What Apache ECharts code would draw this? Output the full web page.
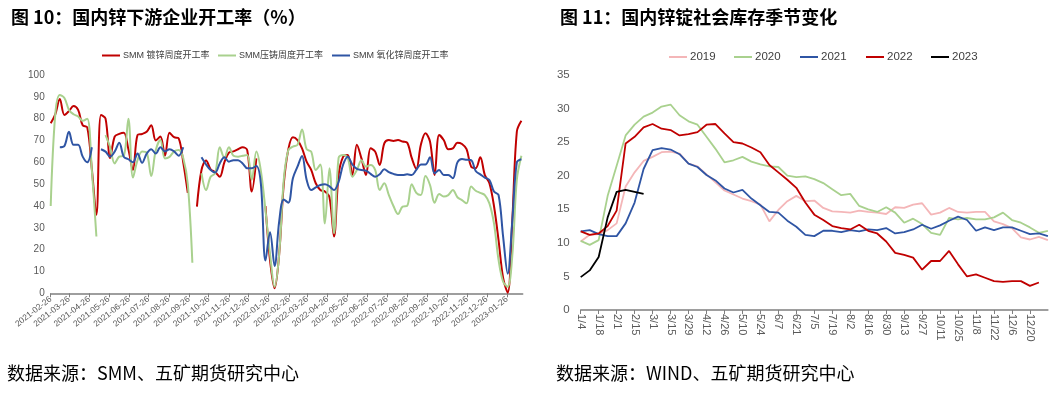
<!DOCTYPE html>
<html>
<head>
<meta charset="utf-8">
<script src="https://cdn.jsdelivr.net/npm/echarts@6/dist/echarts.min.js"></script>
<style>
html,body{margin:0;padding:0;background:#fff;}
#main{width:1057px;height:397px;}
</style>
</head>
<body>
<div id="main"></div>
<script>
// 图10：周度开工率，2021-02-26 起每周一个点
var firstWeek = '2021-02-26';
var galvRate = [77.9, 82, 89, 81.7, 83.5, 85.8, 84, 77, 76, 57,
  36, 81.7, 80, 62, 71.8, 73, 73.5, 66, 56.5, 72.5,
  73, 74, 77, 70, 71.8, 63, 73.5, 71.5, 71, 60,
  46, null, 39.7, 56.5, 60.8, 56.8, 55.5, 53.4, 60, 64.4,
  65, 66, 66.9, 65.6, 46.6, 61.8, null, 40, 15, 2.3,
  18, 50, 66, 71.5, 70.2, 66.4, 60.3, 56.5, 50.4, 47.3,
  46.6, 44, 26, 54.2, 62.6, 63.4, 54.2, 68, 61.8, 54.2,
  66.4, 64.9, 58.8, 68.7, 70.2, 69.8, 70.2, 69.5, 69, 62,
  57, 68, 73.3, 69.5, 54.2, 72.5, 70.2, 66, 66.4, 69,
  68.4, 66, 58, 57.3, 62.3, 54.2, 50.4, 40, 24.4, 7,
  0.3, 33, 74, 79];
var dieCastRate = [40, 82, 90.8, 89.5, 84, 82, 81, 79, 80, 56.5,
  26, null, 72.5, 67, 59.5, 62.6, 63, 80, 53, 61,
  65, 64.5, 53.7, 65.6, 70.2, 61.8, 62.5, 65, 65.6, 62,
  50, 14, null, 55, 47.3, 53.4, 55, 66.9, 62, 66.9,
  63, 62.6, 63, 63.4, 52, 64.9, 56, 38, 18, 3,
  18, 52, 65.6, 67.2, 68, 75, 66, 64.9, 56.5, 59,
  32, 57.3, 27.5, 62, 63.4, 62, 53.4, 56.5, 61, 58,
  58.8, 56.5, 47.3, 50.4, 45, 40, 36.3, 39.7, 40, 50,
  46, 45, 53.7, 49.6, 41.5, 45.5, 44.3, 45, 47.3, 44,
  42.7, 41.2, 48.9, 47, 46, 45, 41.2, 32, 15.3, 5.3,
  3, 17, 52, 63];
var oxideRate = [null, null, 66.9, 67.5, 74, 68, 68, 62.6, 60, 66.9,
  null, 66, 64.9, 62.6, 64.9, 69, 62.5, 61.4, 60, 64,
  59.8, 64, 66, 64, 66.9, 65, 66, 65, 63, 66.9,
  null, null, null, 62.3, 59, 56.5, 55.3, 59.5, 62.3, 60.3,
  61, 61, 59.5, 57.3, 57.3, 58.3, 50, 15, 28, 12.5,
  33, 43, 41.5, 52.7, 58, 62.9, 52, 47.3, 48.5, 49.6,
  50, 49, 47.3, 51, 59, 62.6, 59, 57, 56.5, 56.2,
  54.7, 53.4, 54.5, 56.8, 55.5, 54.7, 54.2, 54.2, 54.5, 54.2,
  56.5, 59, 59, 62.3, 55, 56.5, 54.2, 54.2, 52.7, 60,
  61.5, 61.2, 61, 56, 54.5, 53, 51.9, 46.6, 45, 26,
  9, 33, 60, 61.4];
var monthTicks = ['2021-02-26', '2021-03-26', '2021-04-26', '2021-05-26', '2021-06-26', '2021-07-26',
  '2021-08-26', '2021-09-26', '2021-10-26', '2021-11-26', '2021-12-26', '2022-01-26',
  '2022-02-26', '2022-03-26', '2022-04-26', '2022-05-26', '2022-06-26', '2022-07-26',
  '2022-08-26', '2022-09-26', '2022-10-26', '2022-11-26', '2022-12-26', '2023-01-26'];

// 图11：社会库存（万吨），按周
var weekLabels = ['1/4', '1/11', '1/18', '1/25', '2/1', '2/8', '2/15', '2/22', '3/1', '3/8', '3/15', '3/22', '3/29',
  '4/5', '4/12', '4/19', '4/26', '5/3', '5/10', '5/17', '5/24', '5/31', '6/7', '6/14', '6/21', '6/28',
  '7/5', '7/12', '7/19', '7/26', '8/2', '8/9', '8/16', '8/23', '8/30', '9/6', '9/13', '9/20', '9/27',
  '10/4', '10/11', '10/18', '10/25', '11/1', '11/8', '11/15', '11/22', '11/29', '12/6', '12/13', '12/20',
  '12/27', '1/3'];
var stock2019 = [10.2, 11.2, 11.3, 11.9, 12.9, 18.4, 20.5, 22.2, 22.8, 23.5, 23.6, 23.3, 21.8, 21.4, 20.2,
  19, 17.8, 17.2, 16.6, 16.2, 15.7, 13.2, 14.9, 16.2, 17, 16.2, 16.3, 15.2, 14.7, 14.6, 14.5, 14.8, 14.6,
  14.5, 14.3, 15.3, 15.2, 15.7, 15.9, 14.2, 14.5, 15.2, 14.6, 14.5, 14.6, 14.6, 13.2, 12.8, 12.2, 10.8,
  10.5, 10.9, 10.4];
var stock2020 = [10.3, 9.7, 10.4, 17, 21.5, 26, 27.6, 28.8, 29.4, 30.3, 30.6, 29, 28.1, 27.6, 25.8, 24,
  22, 22.3, 22.8, 22.1, 21.7, 21.4, 21.3, 20, 19.8, 19.9, 19.5, 18.9, 18, 17.1, 17.3, 15.5, 15, 14.6,
  15.3, 14.5, 13, 13.6, 12.8, 11.5, 11.2, 13.7, 13.5, 13.7, 13.5, 13.5, 13.8, 14.5, 13.4, 13, 12.3,
  11.5, 11.8];
var stock2021 = [11.7, 11.9, 11.3, 11, 11, 12.9, 16, 21, 23.8, 24.1, 23.9, 23.2, 21.8, 21.3, 20.1, 19.3,
  18.1, 17.5, 17.9, 16.6, 15.6, 14.6, 14.5, 13.3, 12.4, 11.2, 11, 11.8, 11.8, 11.6, 11.9, 11.7, 12,
  11.9, 12.2, 11.4, 11.6, 12, 12.7, 12.1, 12.6, 13.3, 13.9, 13.4, 11.8, 12.3, 11.9, 12.3, 12.3, 11.8,
  11.3, 11.4, 11];
var stock2022 = [11.7, 11.2, 11.4, 12.5, 14.8, 24.8, 25.8, 27.2, 27.7, 27, 26.8, 26, 26.2, 26.5, 27.6,
  27.7, 26.3, 25, 24.8, 24.2, 23.5, 21.6, 20.5, 19.4, 18.2, 16, 14.2, 13.4, 12.5, 12.2, 12, 12.7, 11.8,
  11.4, 10.2, 8.5, 8.2, 7.8, 6, 7.3, 7.3, 8.8, 6.8, 5, 5.3, 4.8, 4.3, 4.2, 4.3, 4.3, 3.6, 4.1, null];
var stock2023 = [4.9, 5.9, 7.9, 13.8, 17.6, 17.9, 17.6, 17.3];

function toTime(s) {
  var p = s.split('-');
  return new Date(+p[0], +p[1] - 1, +p[2]).getTime();
}
function weekly(values) {
  var t0 = toTime(firstWeek);
  return values.map(function (v, i) {
    return [t0 + i * 7 * 86400000, v];
  });
}
var tickTimes = monthTicks.map(toTime);
function everyOther(i) { return i % 2 === 0 && i <= 50; }

var labelColor = '#595959';
var axisColor = '#7f7f7f';
var narrow = '"Liberation Sans Narrow", "Arial Narrow", Arial, sans-serif';

function oneLegend(name, left) {
  var isYear = name.length < 5;
  return {
    data: [name], left: left, top: 51, padding: 0,
    icon: 'rect', itemWidth: 18, itemHeight: 2, itemGap: 0,
    textStyle: { fontSize: isYear ? 11.5 : 9, color: '#404040', padding: [0, 0, 0, -2],
      fontFamily: isYear ? narrow : 'Arial, "Noto Sans CJK SC", sans-serif' }
  };
}
function leftLine(name, values, color) {
  return {
    name: name, type: 'line', xAxisIndex: 0, yAxisIndex: 0,
    data: weekly(values), smooth: 0.35, symbol: 'none',
    lineStyle: { color: color, width: 2 }, itemStyle: { color: color }
  };
}
function rightLine(name, values, color) {
  return {
    name: name, type: 'line', xAxisIndex: 1, yAxisIndex: 1,
    data: values, symbol: 'none',
    lineStyle: { color: color, width: 1.8 }, itemStyle: { color: color }
  };
}

var chart = echarts.init(document.getElementById('main'));
var option = {
  animation: false,
  backgroundColor: '#fff',
  textStyle: { fontFamily: 'Arial, "Liberation Sans", "Noto Sans CJK SC", sans-serif' },
  title: [
    { text: '图 10：国内锌下游企业开工率（%）', left: 6, top: 3,
      textStyle: { fontSize: 18, fontWeight: 'bold', color: '#000', fontFamily: '"Noto Sans CJK SC", sans-serif' } },
    { text: '图 11：国内锌锭社会库存季节变化', left: 555, top: 3,
      textStyle: { fontSize: 18, fontWeight: 'bold', color: '#000', fontFamily: '"Noto Sans CJK SC", sans-serif' } }
  ],
  legend: [
    oneLegend('SMM 镀锌周度开工率', 102),
    oneLegend('SMM压铸周度开工率', 218),
    oneLegend('SMM 氧化锌周度开工率', 332),
    oneLegend('2019', 669),
    oneLegend('2020', 734),
    oneLegend('2021', 800),
    oneLegend('2022', 866),
    oneLegend('2023', 931)
  ],
  graphic: [
    { type: 'text', left: 7, top: 364,
      style: { text: '数据来源：SMM、五矿期货研究中心', fontSize: 18, fill: '#000', fontFamily: '"Noto Sans CJK SC", sans-serif' } },
    { type: 'text', left: 556, top: 364,
      style: { text: '数据来源：WIND、五矿期货研究中心', fontSize: 18, fill: '#000', fontFamily: '"Noto Sans CJK SC", sans-serif' } }
  ],
  grid: [
    { left: 50.7, top: 75, width: 472, height: 218.3 },
    { left: 580.7, top: 75, width: 467.2, height: 235 }
  ],
  xAxis: [
    {
      type: 'time', gridIndex: 0,
      min: toTime('2021-02-26'), max: toTime('2023-02-19'),
      axisLine: { lineStyle: { color: axisColor, width: 1.5 } },
      axisTick: { show: true, customValues: tickTimes, length: 4, lineStyle: { color: axisColor } },
      axisLabel: { customValues: tickTimes, formatter: '{yyyy}-{MM}-{dd}', rotate: 38,
        fontSize: 8.5, color: labelColor, margin: 5 },
      splitLine: { show: false }
    },
    {
      type: 'category', gridIndex: 1, data: weekLabels, boundaryGap: false,
      axisLine: { lineStyle: { color: axisColor, width: 1.5 } },
      axisTick: { interval: everyOther, length: 4, lineStyle: { color: axisColor } },
      axisLabel: { interval: everyOther, rotate: -90, fontSize: 11, color: labelColor, margin: 4,
        fontFamily: narrow },
      splitLine: { show: false }
    }
  ],
  yAxis: [
    {
      type: 'value', gridIndex: 0, min: 0, max: 100, interval: 10,
      axisLine: { show: false }, axisTick: { show: false }, splitLine: { show: false },
      axisLabel: { fontSize: 10, color: labelColor, margin: 6 }
    },
    {
      type: 'value', gridIndex: 1, min: 0, max: 35, interval: 5,
      axisLine: { show: false }, axisTick: { show: false }, splitLine: { show: false },
      axisLabel: { fontSize: 11.5, color: labelColor, margin: 11, fontFamily: narrow }
    }
  ],
  series: [
    leftLine('SMM 镀锌周度开工率', galvRate, '#C00000'),
    leftLine('SMM压铸周度开工率', dieCastRate, '#A9D18E'),
    leftLine('SMM 氧化锌周度开工率', oxideRate, '#2F55A4'),
    rightLine('2019', stock2019, '#F4B6B8'),
    rightLine('2020', stock2020, '#A9D18E'),
    rightLine('2021', stock2021, '#2F55A4'),
    rightLine('2022', stock2022, '#C00000'),
    rightLine('2023', stock2023, '#000000')
  ]
};
chart.setOption(option);
</script>
</body>
</html>
